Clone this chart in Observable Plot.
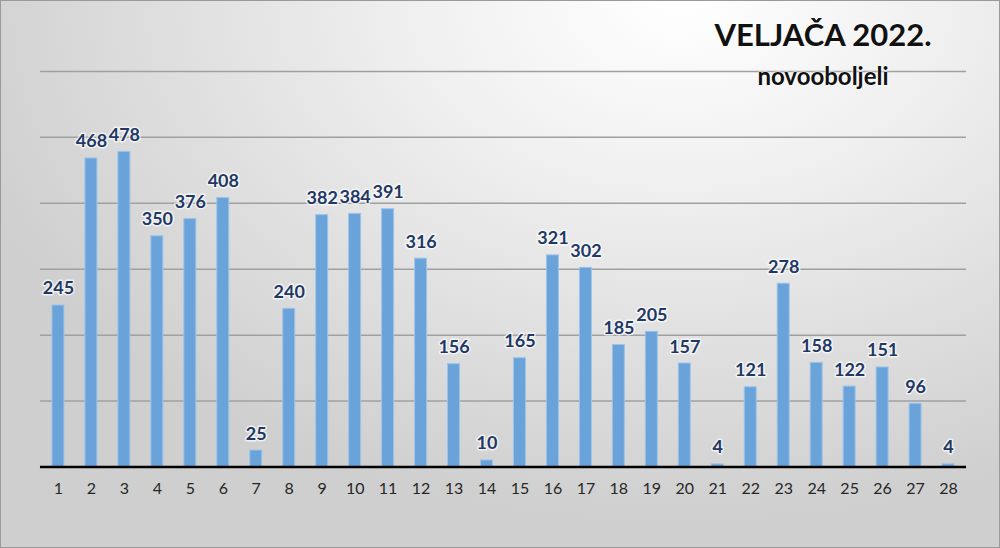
<!DOCTYPE html>
<html>
<head>
<meta charset="utf-8">
<script src="https://cdn.jsdelivr.net/npm/d3@7"></script>
<script src="https://cdn.jsdelivr.net/npm/@observablehq/plot@0.6"></script>
<style>
  html, body { margin: 0; padding: 0; }
  #wrap {
    position: relative; width: 1000px; height: 548px; box-sizing: border-box;
    border: 1px solid #9a9a9a;
    background: radial-gradient(ellipse 75% 95% at 68% 0%, #ffffff 0%, #f0f0f0 35%, #dedede 70%, #cfcfcf 100%);
    font-family: Lato, "Open Sans", sans-serif; overflow: hidden;
  }
  #chart { position: absolute; left: -1px; top: -1px; }
  #chart svg [aria-label*="tick label"], #chart svg [aria-label*="tick label"] text { font-size: 16px !important; }
  .title { position: absolute; width: 300px; left: 672px; text-align: center; font-weight: bold; color: #111;
           text-shadow: 0 0 3px #fff, 0 0 2px #fff; }
  #t1 { top: 14px; font-size: 31px; }
  #t2 { top: 60px; font-size: 24px; }
</style>
</head>
<body>
<div id="wrap">
  <div id="chart"></div>
  <div class="title" id="t1">VELJAČA 2022.</div>
  <div class="title" id="t2">novooboljeli</div>
</div>
<script>
const days = [1,2,3,4,5,6,7,8,9,10,11,12,13,14,15,16,17,18,19,20,21,22,23,24,25,26,27,28];
const cases = [245,468,478,350,376,408,25,240,382,384,391,316,156,10,165,321,302,185,205,157,4,121,278,158,122,151,96,4];
const gridValues = [100,200,300,400,500,600];

const data = days.map((d, i) => ({day: d, value: cases[i]}));

const chart = Plot.plot({
  width: 1000,
  height: 548,
  marginLeft: 40,
  marginRight: 33,
  marginTop: 71,
  marginBottom: 81,
  style: {background: "transparent", fontFamily: "Lato, 'Open Sans', sans-serif"},
  x: {type: "band", domain: days, paddingInner: 0.63, paddingOuter: 0.315, label: null},
  y: {domain: [0, 600], axis: null},
  marks: [
    Plot.ruleY(gridValues, {stroke: "#a0a0a0", strokeWidth: 1.5}),
    Plot.barY(data, {x: "day", y: "value", fill: "#6aa3da", stroke: "#9cc4ea", strokeWidth: 1}),
    Plot.ruleY([0], {stroke: "#000", strokeWidth: 2.5}),
    Plot.axisX({tickSize: 0, tickPadding: 16, fill: "#262626", label: null}),
    Plot.text(data, {x: "day", y: "value", text: d => String(d.value), dy: -11, lineAnchor: "bottom",
      fontWeight: "bold", fontSize: 18, fill: "#1f3864", stroke: "white", strokeWidth: 3, strokeOpacity: 0.7})
  ]
});
document.getElementById("chart").appendChild(chart);
</script>
</body>
</html>
